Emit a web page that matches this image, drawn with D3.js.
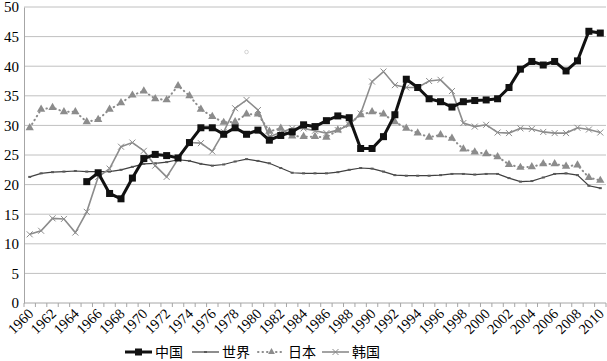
<!DOCTYPE html>
<html>
<head>
<meta charset="utf-8">
<script src="https://cdn.jsdelivr.net/npm/d3@7"></script>
<style>
  body { margin: 0; background: #fff; }
  svg { display: block; }
</style>
</head>
<body>
<div id="chart"></div>
<script>
// Years 1960..2010
const years = d3.range(1960, 2011);
const yTicks = [0, 5, 10, 15, 20, 25, 30, 35, 40, 45, 50];

// 中国 starts in 1965
const china = [null, null, null, null, null,
  20.5, 22.0, 18.5, 17.6, 21.1, 24.4, 25.1, 24.9, 24.5, 27.1,
  29.6, 29.6, 28.5, 29.6, 28.5, 29.2, 27.5, 28.3, 28.9, 30.1,
  29.8, 30.8, 31.6, 31.3, 26.1, 26.1, 28.1, 31.8, 37.8, 36.4,
  34.5, 34.0, 33.1, 34.0, 34.2, 34.3, 34.5, 36.4, 39.5, 40.8,
  40.2, 40.8, 39.2, 40.9, 45.9, 45.6];
const world = [21.3, 21.9, 22.1, 22.2, 22.3, 22.2, 22.2, 22.2, 22.5, 23.0,
  23.5, 23.6, 23.8, 24.2, 24.0, 23.5, 23.2, 23.4, 23.9, 24.3,
  24.0, 23.6, 22.8, 22.0, 21.9, 21.9, 21.9, 22.1, 22.5, 22.8,
  22.7, 22.2, 21.6, 21.5, 21.5, 21.5, 21.6, 21.8, 21.8, 21.7,
  21.8, 21.8, 21.1, 20.5, 20.6, 21.2, 21.8, 21.9, 21.6, 19.8, 19.4];
const japan = [29.6, 32.7, 33.0, 32.3, 32.3, 30.6, 31.0, 32.7, 33.8, 35.1,
  35.8, 34.5, 34.3, 36.7, 35.0, 32.7, 31.5, 30.5, 30.6, 31.9,
  31.9, 29.0, 29.5, 28.2, 28.1, 28.1, 28.0, 29.2, 30.2, 31.8,
  32.3, 31.9, 30.6, 29.5, 28.7, 28.0, 28.4, 27.8, 26.0, 25.5,
  25.2, 24.7, 23.4, 22.9, 23.0, 23.5, 23.5, 23.1, 23.3, 21.2, 20.7];
const korea = [11.6, 12.2, 14.3, 14.2, 11.9, 15.4, 21.3, 22.7, 26.4, 27.1,
  25.7, 23.2, 21.3, 24.3, 27.1, 27.0, 25.6, 28.9, 32.9, 34.3,
  32.6, 28.1, 28.8, 29.5, 29.5, 29.1, 28.7, 29.2, 30.1, 32.0,
  37.4, 39.1, 36.8, 36.4, 36.4, 37.5, 37.7, 35.8, 30.4, 29.8,
  30.1, 28.8, 28.7, 29.5, 29.4, 28.9, 28.7, 28.7, 29.6, 29.3, 28.8];
// stray marker visible in the picture
const stray = [{ year: 1979, value: 42.4 }];

const seriesNames = ['中国', '世界', '日本', '韩国'];

const width = 607, height = 361;
const plotLeft = 24, plotRight = 606, plotTop = 7, plotBottom = 303;

const svg = d3.select('#chart').append('svg')
  .attr('width', width)
  .attr('height', height);

const x = d3.scaleBand().domain(years).range([plotLeft, plotRight]);
const cx = yr => x(yr) + x.bandwidth() / 2;
const y = d3.scaleLinear().domain([0, 50]).range([plotBottom, plotTop]);

// gridlines
svg.append('g')
  .selectAll('line')
  .data(yTicks.filter(d => d > 0))
  .enter().append('line')
  .attr('x1', plotLeft).attr('x2', plotRight)
  .attr('y1', d => y(d)).attr('y2', d => y(d))
  .attr('stroke', '#c0c0c0').attr('stroke-width', 1);

// y axis
const yAxis = svg.append('g').attr('transform', `translate(${plotLeft},0)`)
  .call(d3.axisLeft(y).tickValues(yTicks).tickSize(0).tickPadding(5));
yAxis.select('.domain').attr('stroke', '#a6a6a6');
yAxis.selectAll('text')
  .attr('font-family', 'Liberation Serif, serif')
  .attr('font-size', 15).attr('fill', '#000');

// x axis line and ticks between categories
svg.append('line')
  .attr('x1', plotLeft).attr('x2', plotRight)
  .attr('y1', plotBottom).attr('y2', plotBottom)
  .attr('stroke', '#a6a6a6');
svg.append('g')
  .selectAll('line')
  .data(years.concat([2011]))
  .enter().append('line')
  .attr('x1', d => d === 2011 ? plotRight : x(d))
  .attr('x2', d => d === 2011 ? plotRight : x(d))
  .attr('y1', plotBottom).attr('y2', plotBottom + 4)
  .attr('stroke', '#a6a6a6');

svg.append('g')
  .selectAll('text')
  .data(years.filter(d => d % 2 === 0))
  .enter().append('text')
  .attr('transform', d => `translate(${cx(d) + 1},${plotBottom + 8}) rotate(-45)`)
  .attr('text-anchor', 'end')
  .attr('dy', '0.35em')
  .attr('font-family', 'Liberation Serif, serif')
  .attr('font-size', 14.5)
  .text(d => d);

// lines
const line = d3.line()
  .defined(d => d[1] !== null)
  .x(d => cx(d[0]))
  .y(d => y(d[1]));
const pairs = arr => years.map((yr, i) => [yr, arr[i]]);

// 世界
svg.append('path').datum(pairs(world))
  .attr('d', line).attr('fill', 'none')
  .attr('stroke', '#404040').attr('stroke-width', 1.2);
svg.append('g').selectAll('rect').data(pairs(world)).enter().append('rect')
  .attr('x', d => cx(d[0]) - 1.5).attr('y', d => y(d[1]) - 1)
  .attr('width', 3).attr('height', 2).attr('fill', '#595959');

// 日本
svg.append('path').datum(pairs(japan))
  .attr('d', line).attr('fill', 'none')
  .attr('stroke', '#8c8c8c').attr('stroke-width', 2)
  .attr('stroke-linecap', 'round')
  .attr('stroke-dasharray', '0.5,4');
const tri = d3.symbol().type(d3.symbolTriangle).size(30);
svg.append('g').selectAll('path').data(pairs(japan)).enter().append('path')
  .attr('d', tri)
  .attr('transform', d => `translate(${cx(d[0])},${y(d[1])})`)
  .attr('fill', '#8c8c8c');

// 韩国
svg.append('path').datum(pairs(korea))
  .attr('d', line).attr('fill', 'none')
  .attr('stroke', '#8c8c8c').attr('stroke-width', 1.6);
svg.append('g').selectAll('path').data(pairs(korea)).enter().append('path')
  .attr('d', 'M-3,-3L3,3M-3,3L3,-3')
  .attr('transform', d => `translate(${cx(d[0])},${y(d[1])})`)
  .attr('stroke', '#8c8c8c').attr('stroke-width', 1).attr('fill', 'none');

// 中国
const chinaPts = pairs(china).filter(d => d[1] !== null);
svg.append('path').datum(pairs(china))
  .attr('d', line).attr('fill', 'none')
  .attr('stroke', '#111').attr('stroke-width', 3);
svg.append('g').selectAll('rect').data(chinaPts).enter().append('rect')
  .attr('x', d => cx(d[0]) - 3.5).attr('y', d => y(d[1]) - 3.5)
  .attr('width', 7).attr('height', 7).attr('fill', '#111');

// stray marker
svg.append('g').selectAll('circle').data(stray).enter().append('circle')
  .attr('cx', d => cx(d.year)).attr('cy', d => y(d.value))
  .attr('r', 1.8).attr('fill', 'none')
  .attr('stroke', '#c8c8c8').attr('stroke-width', 0.8);

// legend
const legendY = 352;
const legend = svg.append('g');
const legendX = [125, 192, 258, 322];
seriesNames.forEach((name, i) => {
  const g = legend.append('g').attr('transform', `translate(${legendX[i]},${legendY})`);
  const l = g.append('line').attr('x1', 0).attr('x2', 27).attr('y1', 0).attr('y2', 0);
  if (i === 0) {
    l.attr('stroke', '#111').attr('stroke-width', 3);
    g.append('rect').attr('x', 10).attr('y', -3.5).attr('width', 7).attr('height', 7).attr('fill', '#111');
  } else if (i === 1) {
    l.attr('stroke', '#404040').attr('stroke-width', 1.2);
    g.append('rect').attr('x', 12).attr('y', -1).attr('width', 3).attr('height', 2).attr('fill', '#595959');
  } else if (i === 2) {
    l.attr('stroke', '#8c8c8c').attr('stroke-width', 2)
      .attr('stroke-linecap', 'round').attr('stroke-dasharray', '0.5,4');
    g.append('path').attr('d', d3.symbol().type(d3.symbolTriangle).size(20))
      .attr('transform', 'translate(13.5,0)').attr('fill', '#8c8c8c');
  } else {
    l.attr('stroke', '#8c8c8c').attr('stroke-width', 1.6);
    g.append('path').attr('d', 'M-3,-3L3,3M-3,3L3,-3')
      .attr('transform', 'translate(13.5,0)')
      .attr('stroke', '#8c8c8c').attr('stroke-width', 1);
  }
  g.append('text')
    .attr('x', 30).attr('y', 0).attr('dy', '0.36em')
    .attr('font-family', 'Noto Sans CJK SC, sans-serif')
    .attr('font-size', 14)
    .text(name);
});
</script>
</body>
</html>
